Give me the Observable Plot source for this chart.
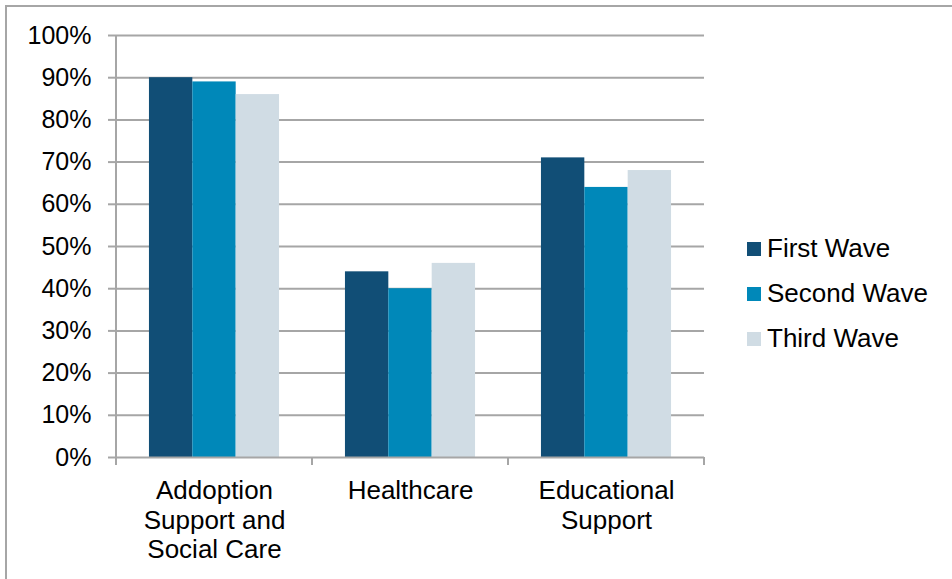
<!DOCTYPE html>
<html>
<head>
<meta charset="utf-8">
<script src="https://cdn.jsdelivr.net/npm/d3@7"></script>
<script src="https://cdn.jsdelivr.net/npm/@observablehq/plot@0.6"></script>
<style>
  html, body { margin: 0; padding: 0; background: #fff; }
  body { width: 952px; height: 579px; overflow: hidden; position: relative; font-family: "Liberation Sans", Arial, sans-serif; }
  #frame { position: absolute; left: 5px; top: 5px; width: 960px; height: 600px; border-left: 2px solid #a6a6a6; border-top: 2px solid #a6a6a6; box-sizing: border-box; }
  #chart { position: absolute; left: 0; top: 0; }
  #legend { position: absolute; left: 747px; top: 226px; font-size: 26px; color: #000; }
  .item { display: flex; align-items: center; height: 45px; }
  .sw { width: 14px; height: 14px; margin-right: 6px; }
  .item span.t { line-height: 26px; position: relative; top: -1px; }
</style>
</head>
<body>
<div id="frame"></div>
<div id="chart"></div>
<div id="legend"></div>
<script>
const categories = ["Addoption Support and Social Care", "Healthcare", "Educational Support"];
const categoryLabels = ["Addoption\nSupport and\nSocial Care", "Healthcare", "Educational\nSupport"];
const series = ["First Wave", "Second Wave", "Third Wave"];
const colors = ["#114e76", "#0088b9", "#d0dce4"];
const firstWave = [90, 44, 71];
const secondWave = [89, 40, 64];
const thirdWave = [86, 46, 68];
const yTicks = [0, 10, 20, 30, 40, 50, 60, 70, 80, 90, 100];

const values = [firstWave, secondWave, thirdWave];
const data = [];
categories.forEach((c, i) => series.forEach((s, j) => data.push({category: c, series: s, value: values[j][i]})));

const gridColor = "#a6a6a6";
const W = 952, H = 579;
const plot = Plot.plot({
  width: W,
  height: H,
  marginLeft: 115,
  marginRight: 247,
  marginTop: 35,
  marginBottom: 122,
  style: {fontFamily: "Liberation Sans, Arial, sans-serif", fontSize: "25px", color: "#000", background: "transparent"},
  fx: {domain: categories, padding: 0, axis: null},
  x: {domain: series, paddingInner: 0, paddingOuter: 0.76, round: false, axis: null},
  y: {domain: [0, 100], ticks: yTicks, tickFormat: d => d + "%", tickSize: 8, tickPadding: 17, label: null},
  color: {domain: series, range: colors},
  marks: [
    Plot.ruleY(yTicks.slice(1), {stroke: gridColor, strokeWidth: 2}),
    Plot.axisY({ticks: yTicks, tickFormat: d => d + "%", tickSize: 8, tickPadding: 17, stroke: gridColor, strokeWidth: 2, fontSize: 25, fill: "#000", label: null}),
    Plot.barY(data, {fx: "category", x: "series", y: "value", fill: "series", inset: 0}),
    Plot.ruleY([0], {stroke: gridColor, strokeWidth: 2}),
    Plot.text(categories, {fx: d => d, text: (d, i) => categoryLabels[i], frameAnchor: "bottom", dy: 21, lineAnchor: "top", lineHeight: 1.135, fontSize: 26, fill: "#000", textAnchor: "middle"})
  ]
});
document.getElementById("chart").appendChild(plot);

// Axis line and category boundary ticks from library scales
const fx = plot.scale("fx"), y = plot.scale("y");
const svg = d3.select(plot);
const g = svg.append("g").attr("stroke", gridColor).attr("stroke-width", 2);
const bounds = categories.map(c => fx.apply(c)).concat([fx.apply(categories[categories.length - 1]) + fx.bandwidth]);
const y0 = y.apply(0), y1 = y.apply(100);
g.append("line").attr("x1", bounds[0]).attr("x2", bounds[0]).attr("y1", y1).attr("y2", y0 + 8);
bounds.slice(1).forEach(b => g.append("line").attr("x1", b).attr("x2", b).attr("y1", y0).attr("y2", y0 + 8));

// Legend
const legend = document.getElementById("legend");
series.forEach((s, i) => {
  const item = document.createElement("div");
  item.className = "item";
  item.innerHTML = `<div class="sw" style="background:${colors[i]}"></div><span class="t">${s}</span>`;
  legend.appendChild(item);
});
</script>
</body>
</html>
